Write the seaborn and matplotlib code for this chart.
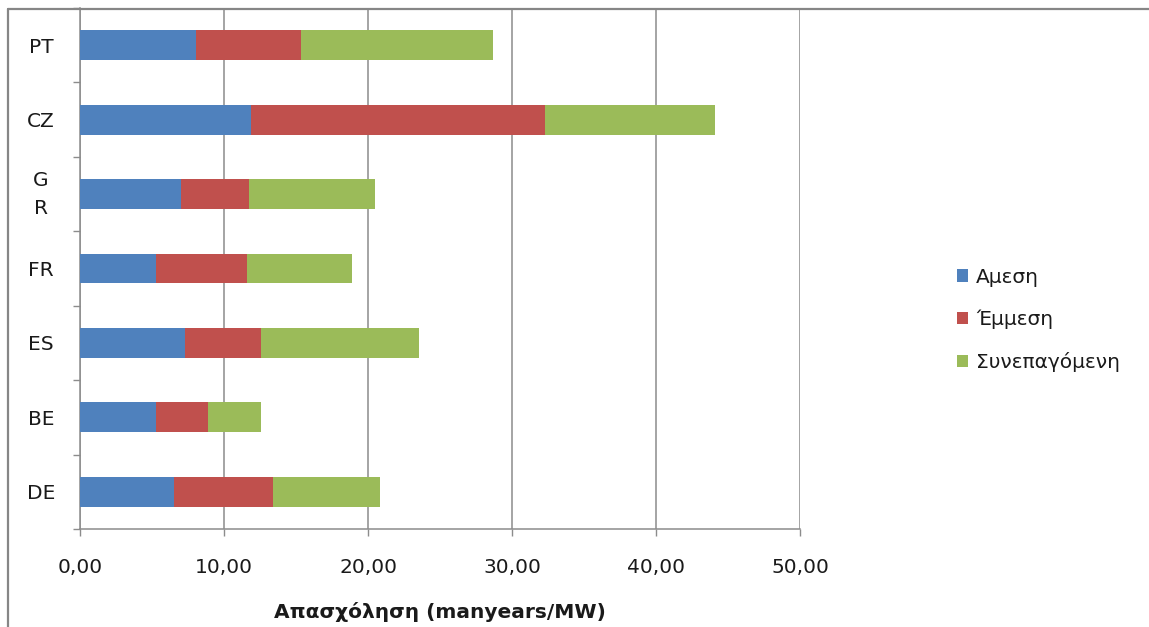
import matplotlib
matplotlib.use("Agg")
import matplotlib.pyplot as plt
import seaborn as sns
import pandas as pd
import numpy as np
from matplotlib.lines import Line2D
from matplotlib.patches import Patch

# Employment per MW by country (manyears/MW)
countries = ["PT", "CZ", "G\nR", "FR", "ES", "BE", "DE"]
direct = [8.07, 11.88, 7.01, 5.31, 7.32, 5.31, 6.55]
indirect = [7.31, 20.40, 4.71, 6.32, 5.27, 3.56, 6.85]
induced = [13.27, 11.82, 8.75, 7.23, 10.98, 3.72, 7.41]
series_names = ["Αμεση", "Έμμεση", "Συνεπαγόμενη"]
xticks = [0, 10, 20, 30, 40, 50]
xtick_labels = ["0,00", "10,00", "20,00", "30,00", "40,00", "50,00"]

colors = ["#4F81BD", "#C0504D", "#9BBB59"]
grid_grey = "#8C8C8C"

sns.set_theme(style="white")
plt.rcParams["font.family"] = ["DejaVu Sans"]

W, H = 1149, 627
fig = plt.figure(figsize=(W / 100, H / 100), dpi=100)
ax = fig.add_axes([80 / W, 1 - 529 / H, 720 / W, 521 / H])

df = pd.DataFrame({"country": countries, "d": direct, "i": indirect, "n": induced})
df["c1"] = df["d"]
df["c2"] = df["d"] + df["i"]
df["c3"] = df["c2"] + df["n"]

# Stacked bars: draw cumulative totals from the longest to the shortest
for col, colr in zip(["c3", "c2", "c1"], colors[::-1]):
    sns.barplot(data=df, x=col, y="country", color=colr, orient="h",
                width=0.4, saturation=1, ax=ax, edgecolor="none", zorder=3)

ax.set_xlim(0, 50)
ax.set_ylim(6.5, -0.5)
ax.set_xticks(xticks)
ax.set_xticklabels(xtick_labels, fontsize=14.5, color="#1a1a1a")
ax.tick_params(axis="x", length=5, width=1, color=grid_grey, pad=16,
               direction="out", bottom=True)
ax.set_yticks(np.arange(len(countries)))
ax.set_yticklabels(countries, fontsize=14.5, color="#1a1a1a",
                   ha="center", linespacing=1.6)
for lbl in ax.get_yticklabels():
    if "\n" in lbl.get_text():
        lbl.set_va("center")
ax.tick_params(axis="y", length=0, pad=28)
# minor ticks between categories on the y axis
ax.set_yticks(np.arange(-0.5, len(countries), 1), minor=True)
ax.tick_params(axis="y", which="minor", length=5, width=1, color=grid_grey,
               direction="out", left=True)

ax.xaxis.grid(True, color=grid_grey, linewidth=1.1, zorder=0)
ax.yaxis.grid(False)
ax.set_axisbelow(True)
for s in ["top", "right"]:
    ax.spines[s].set_visible(False)
for s in ["left", "bottom"]:
    ax.spines[s].set_color(grid_grey)
    ax.spines[s].set_linewidth(1.1)

ax.set_ylabel("")
ax.set_xlabel("Απασχόληση (manyears/MW)", fontsize=14.5, fontweight="bold",
              color="#1a1a1a", labelpad=18)

handles = [Patch(facecolor=c, edgecolor="none") for c in colors]
fig.legend(handles, series_names, loc="center left",
           bbox_to_anchor=(939 / W, 1 - 320 / H), frameon=False,
           fontsize=14.5, handlelength=0.55, handleheight=0.55,
           handletextpad=0.4, labelspacing=1.15, labelcolor="#1a1a1a")

# Chart frame: left and top edges (the rest lies outside the canvas)
fx, fy = 7.5 / W, 1 - 9 / H
fig.add_artist(Line2D([fx, fx], [0, fy], transform=fig.transFigure,
                      color="#868686", linewidth=1.6))
fig.add_artist(Line2D([fx, 1], [fy, fy], transform=fig.transFigure,
                      color="#868686", linewidth=1.6))

fig.savefig("out.png", dpi=100, facecolor="white")
